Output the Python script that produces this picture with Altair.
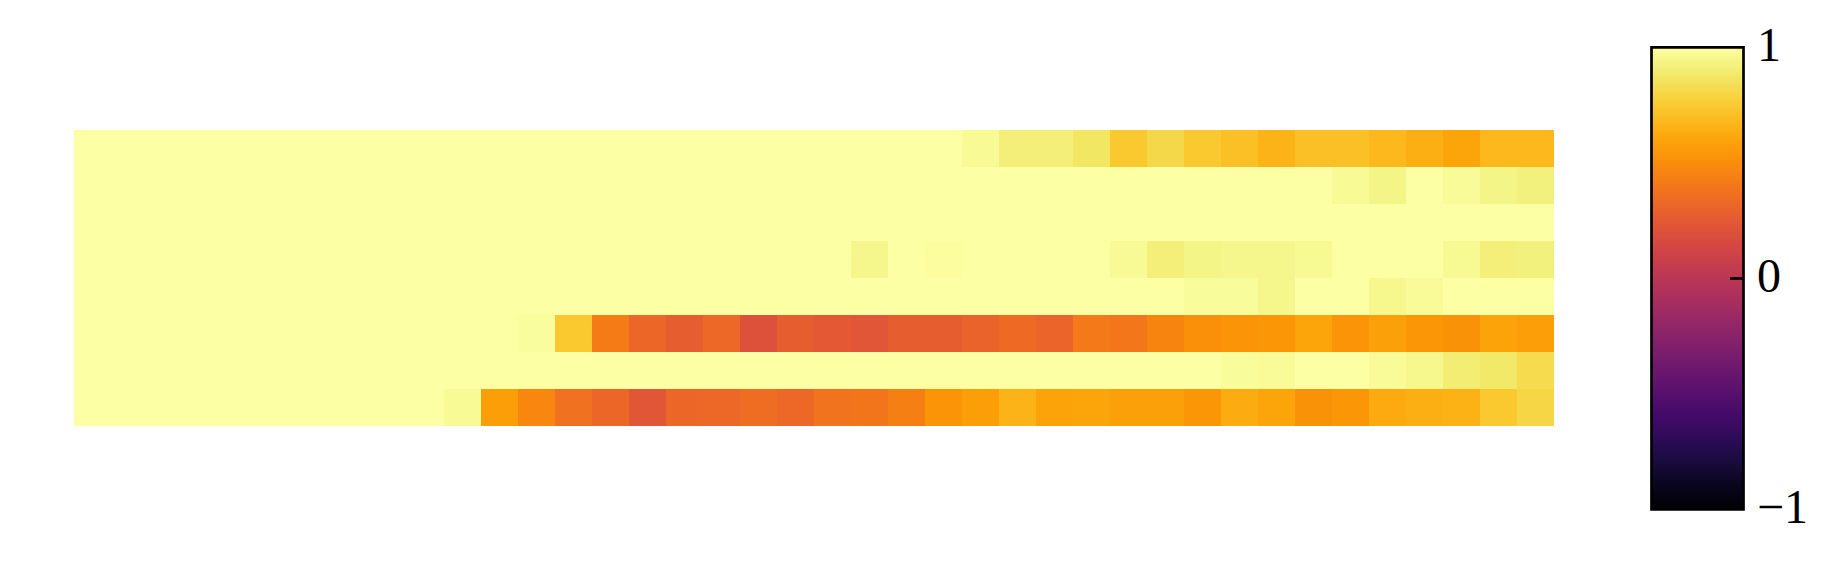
import altair as alt
import pandas as pd

P = 1.0  # palest cells

row_0 = [P] * 24 + [0.97, 0.91, 0.91, 0.87, 0.74, 0.81, 0.74, 0.71, 0.66, 0.71,
                    0.71, 0.68, 0.64, 0.60, 0.68, 0.68]
row_1 = [P] * 34 + [0.97, 0.94, P, 0.975, 0.94, 0.92]
row_2 = [P] * 40
row_3 = [P] * 21 + [0.95, P, 0.99, P, P, P, P, 0.97, 0.91, 0.94, 0.95, 0.95, 0.965,
                    P, P, P, 0.965, 0.91, 0.92]
row_4 = [P] * 30 + [0.98, 0.98, 0.95, P, P, 0.955, 0.975, P, P, P]
row_5 = [P] * 12 + [0.985, 0.74, 0.42, 0.32, 0.27, 0.33, 0.20, 0.27, 0.25, 0.23,
                    0.27, 0.27, 0.30, 0.34, 0.31, 0.41, 0.40, 0.46, 0.51, 0.53,
                    0.54, 0.60, 0.53, 0.58, 0.54, 0.52, 0.59, 0.57]
row_6 = [P] * 31 + [0.98, 0.975, P, P, 0.975, 0.955, 0.90, 0.88, 0.82]
row_7 = [P] * 10 + [0.97, 0.57, 0.47, 0.37, 0.32, 0.23, 0.32, 0.33, 0.35, 0.33,
                    0.38, 0.39, 0.44, 0.53, 0.57, 0.66, 0.59, 0.60, 0.58, 0.58,
                    0.54, 0.63, 0.60, 0.52, 0.54, 0.62, 0.64, 0.65, 0.74, 0.80]

all_rows = [row_0, row_1, row_2, row_3, row_4, row_5, row_6, row_7]
colorbar_labels = [-1, 0, 1]
inner_ticks = [0]

records = []
for r, vals in enumerate(all_rows):
    for c, v in enumerate(vals):
        records.append({"row": r, "col": c, "value": v})
df = pd.DataFrame(records)

cmap = alt.Scale(scheme="inferno", domain=[-1, 1])
bar_range = [379.3, -82.7]  # colorbar y extent relative to the plot area


def bar_scale():
    return alt.Scale(domain=[-1, 1], range=bar_range, nice=False, zero=False)


heat = alt.Chart(df).mark_rect().encode(
    x=alt.X("col:O", axis=None, scale=alt.Scale(paddingInner=0, paddingOuter=0)),
    y=alt.Y("row:O", axis=None, scale=alt.Scale(paddingInner=0, paddingOuter=0)),
    color=alt.Color(
        "value:Q",
        scale=cmap,
        legend=alt.Legend(
            type="gradient",
            orient="none", legendX=1577.5, legendY=-82.7, title=None,
            values=colorbar_labels, direction="vertical",
            gradientLength=462, gradientThickness=92,
            gradientStrokeColor="black", gradientStrokeWidth=2.7,
            labelColor="rgba(0,0,0,0)", labelExpr="''", padding=0,
        ),
    ),
)

tick_layer = alt.Chart(pd.DataFrame({"t": inner_ticks})).mark_rule(opacity=0).encode(
    x=alt.value(0),
    x2=alt.value(1),
    y=alt.Y(
        "t:Q",
        scale=bar_scale(),
        axis=alt.Axis(
            orient="left", offset=-1669.5, values=inner_ticks, labels=False,
            domain=False, grid=False, ticks=True, tickSize=14, tickWidth=2.7,
            tickColor="black", title=None, zindex=2,
        ),
    ),
)

label_layer = alt.Chart(pd.DataFrame({"t": colorbar_labels})).mark_text(
    align="left", baseline="middle", font="Liberation Serif", fontSize=48,
    color="black",
).encode(
    x=alt.value(1683),
    y=alt.Y("t:Q", scale=bar_scale(), axis=None),
    text=alt.Text("t:Q", format="d"),
)

chart = alt.layer(heat, tick_layer, label_layer).resolve_scale(
    y="independent"
).properties(
    width=1480, height=296,
    autosize=alt.AutoSizeParams(type="none"),
    padding={"left": 66, "top": 122, "right": 284, "bottom": 133},
    background="white",
).configure_view(stroke=None)

chart.save("out.html", embed_options={"renderer": "svg", "actions": False})
